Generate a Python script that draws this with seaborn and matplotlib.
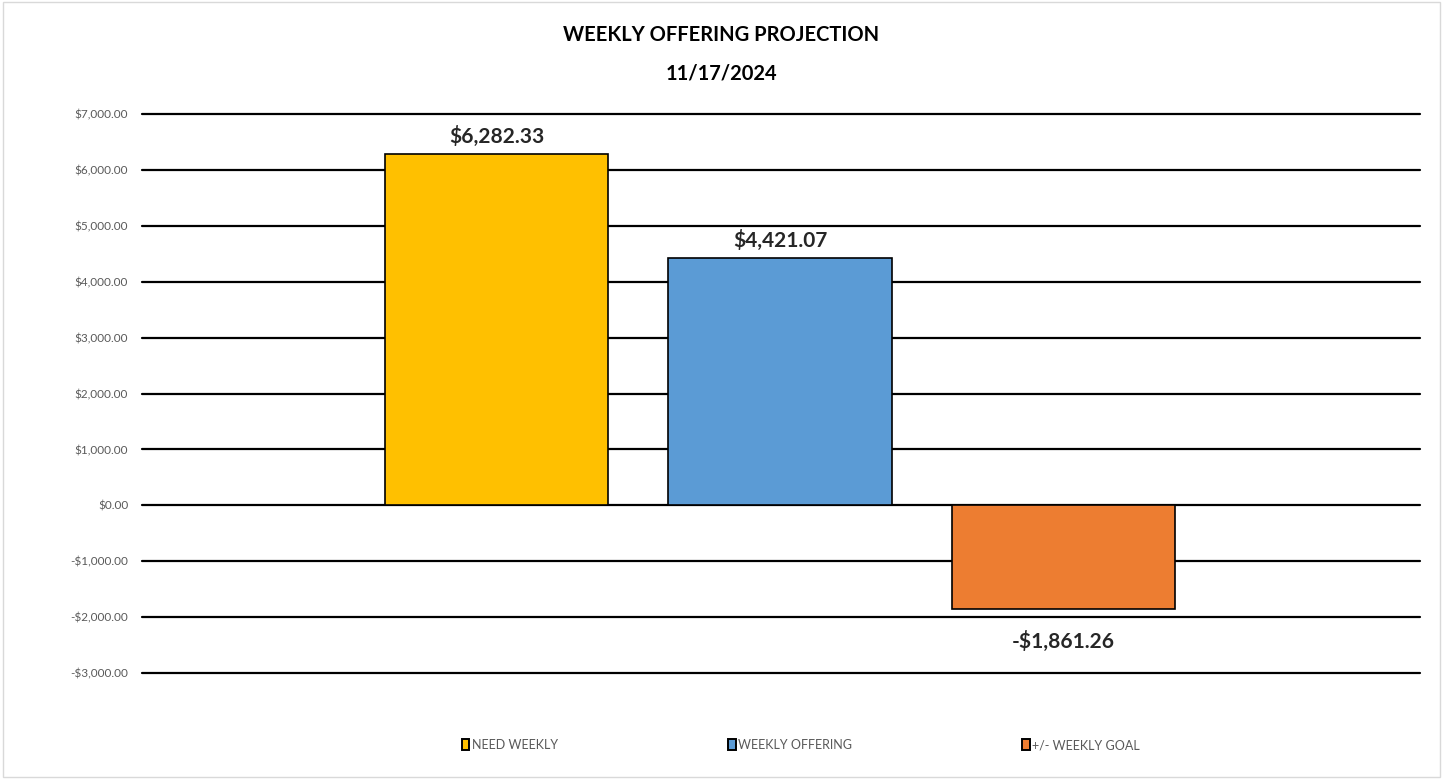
import numpy as np
import pandas as pd
import seaborn as sns
import matplotlib.pyplot as plt
from matplotlib.patches import Patch, Rectangle
from matplotlib.ticker import FuncFormatter

categories = ['NEED WEEKLY', 'WEEKLY OFFERING', '+/- WEEKLY GOAL']
amounts = [6282.33, 4421.07, -1861.26]
colors = ['#FFC000', '#5B9BD5', '#ED7D31']
y_ticks = [-3000, -2000, -1000, 0, 1000, 2000, 3000, 4000, 5000, 6000, 7000]

df = pd.DataFrame({'Category': categories, 'Amount': amounts})

sns.set_style('white')
plt.rcParams['font.family'] = ['Lato', 'DejaVu Sans']

fig = plt.figure(figsize=(14.43, 7.79), dpi=100)
ax = fig.add_axes([142 / 1443, 1 - 673 / 779, (1420 - 142) / 1443, (673 - 114) / 779])

sns.barplot(data=df, x='Category', y='Amount', hue='Category', palette=colors,
            saturation=1, width=0.787, edgecolor='black', linewidth=1.2,
            legend=False, ax=ax)

ax.set_xlim(-1.25, 3.257)
ax.set_ylim(-3000, 7000)
ax.set_yticks(y_ticks)


def money(v, pos=None):
    s = '${:,.2f}'.format(abs(v))
    return '-' + s if v < 0 else s


ax.yaxis.set_major_formatter(FuncFormatter(money))
ax.set_xticks([])
ax.set_xlabel('')
ax.set_ylabel('')
ax.tick_params(axis='y', length=0, pad=10, labelsize=8.5, labelcolor='#595959')
ax.yaxis.grid(True, color='black', linewidth=1.6)
ax.set_axisbelow(True)
for gl in ax.get_ygridlines():
    gl.set_clip_on(False)
for sp in ax.spines.values():
    sp.set_visible(False)

# data labels
for i, v in enumerate(amounts):
    off = 13 if v >= 0 else -23
    ax.annotate(money(v), (i, v), xytext=(0, off), textcoords='offset points',
                ha='center', va='center',
                fontsize=15, fontweight='bold', color='#262626')

fig.text(0.5, 1 - 35 / 779, 'WEEKLY OFFERING PROJECTION', ha='center', va='center',
         fontsize=14.5, fontweight='bold', color='black')
fig.text(0.5, 1 - 73 / 779, '11/17/2024', ha='center', va='center',
         fontsize=14.5, fontweight='bold', color='black')

handles = [Patch(facecolor=c, edgecolor='black', linewidth=1.4) for c in colors]
fig.legend(handles, categories, loc='center', bbox_to_anchor=(0.555, 1 - 745 / 779),
           ncol=3, frameon=False, fontsize=9, labelcolor='#595959',
           handlelength=0.6, handleheight=1.0, handletextpad=0.2, columnspacing=13.6)

fig.patches.append(Rectangle((3 / 1443, 2 / 779), 1437 / 1443, 775 / 779,
                             transform=fig.transFigure, fill=False,
                             edgecolor='#d9d9d9', linewidth=1))

fig.savefig('out.png', dpi=100)
